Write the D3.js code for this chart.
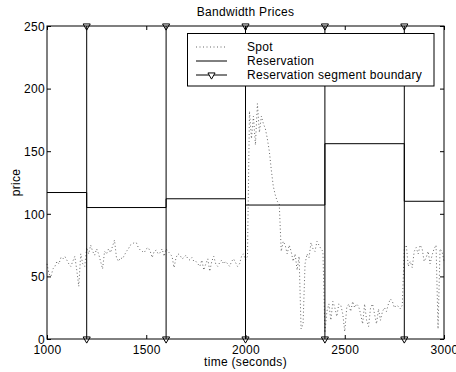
<!DOCTYPE html>
<html>
<head>
<meta charset="utf-8">
<script src="https://cdn.jsdelivr.net/npm/d3@7"></script>
<style>
  html, body { margin: 0; padding: 0; background: #fff; }
  svg { display: block; }
  text { font-family: "Liberation Sans", Arial, Helvetica, sans-serif; letter-spacing: 0.3px; }
</style>
</head>
<body>
<svg id="chart" width="456" height="372"></svg>
<script>
// ---------- data ----------
const title = "Bandwidth Prices";
const xLabel = "time (seconds)";
const yLabel = "price";
const xTicks = [1000, 1500, 2000, 2500, 3000];
const yTicks = [0, 50, 100, 150, 200, 250];

// reservation segments: boundaries and price per segment
const segmentEdges = [1000, 1200, 1600, 2000, 2400, 2800, 3000];
const reservationPrices = [117, 105, 112, 107, 156, 110];
const boundaryTimes = [1200, 1600, 2000, 2400, 2800];

// spot price, sampled every 10 s from t = 1000 s
const spotStart = 1000;
const spotStep = 10;
const spotValues = [
  // 1000-1190
  60, 52, 50, 56, 58, 62, 60, 65, 64, 66, 63, 60, 58, 62, 66, 55, 42, 68, 60, 58,
  // 1200-1590
  73, 68, 75, 70, 67, 72, 68, 62, 56, 70, 68, 72, 69, 74, 79, 65, 62, 65, 64, 67,
  70, 72, 75, 76, 77, 77, 73, 71, 70, 69, 72, 73, 70, 65, 70, 71, 68, 69, 72, 66,
  // 1600-1990
  72, 70, 68, 66, 57, 65, 68, 67, 64, 65, 67, 64, 63, 65, 62, 62, 60, 58, 63, 55,
  60, 64, 54, 62, 66, 60, 58, 61, 63, 60, 62, 60, 58, 62, 64, 61, 58, 60, 66, 68,
  // 2000-2390
  63, 66, 182, 160, 178, 155, 188, 165, 178, 172, 168, 160, 150, 135, 122, 115, 110, 108, 70, 78,
  75, 68, 75, 70, 62, 68, 55, 66, 8, 12, 60, 68, 65, 77, 72, 70, 78, 75, 72, 70,
  // 2400-2790
  5, 22, 28, 15, 30, 25, 18, 28, 27, 20, 6, 25, 28, 22, 30, 25, 28, 26, 20, 12,
  28, 15, 10, 25, 28, 20, 12, 24, 15, 22, 25, 22, 28, 32, 30, 25, 27, 26, 24, 27,
  // 2800-3000
  73, 75, 58, 62, 57, 70, 73, 68, 75, 72, 62, 65, 70, 60, 67, 72, 75, 8, 72, 70, 62
];

const legendLabels = ["Spot", "Reservation", "Reservation segment boundary"];

// ---------- layout ----------
const W = 456, H = 372;
const margin = { left: 47, right: 12, top: 26, bottom: 33 };
const svg = d3.select("#chart");

const x = d3.scaleLinear().domain([1000, 3000]).range([margin.left, W - margin.right]);
const y = d3.scaleLinear().domain([0, 250]).range([H - margin.bottom, margin.top]);

const FS = 12;
const spotColor = "#555";

// spot
const spot = spotValues.map((v, i) => ({ t: spotStart + i * spotStep, v }));
svg.append("path")
  .datum(spot)
  .attr("fill", "none")
  .attr("stroke", spotColor)
  .attr("stroke-width", 0.9)
  .attr("stroke-dasharray", "1,2.5")
  .attr("d", d3.line().x(d => x(d.t)).y(d => y(d.v)));

// reservation step line
const resPts = [];
reservationPrices.forEach((p, i) => {
  resPts.push({ t: segmentEdges[i], v: p });
  resPts.push({ t: segmentEdges[i + 1], v: p });
});
svg.append("path")
  .datum(resPts)
  .attr("fill", "none")
  .attr("stroke", "#000")
  .attr("stroke-width", 1)
  .attr("d", d3.line().x(d => x(d.t)).y(d => y(d.v)));

// boundaries
const tri = d3.symbol().type(d3.symbolTriangle).size(22);
const bnd = svg.append("g");
boundaryTimes.forEach(t => {
  bnd.append("line")
    .attr("x1", x(t)).attr("x2", x(t))
    .attr("y1", y(0)).attr("y2", y(250))
    .attr("stroke", "#000").attr("stroke-width", 1);
  [0, 250].forEach(v => {
    bnd.append("path")
      .attr("d", tri)
      .attr("transform", `translate(${x(t)},${y(v)}) rotate(180)`)
      .attr("fill", "none").attr("stroke", "#000").attr("stroke-width", 1);
  });
});

// axes box
const x0 = x.range()[0], x1 = x.range()[1], y0 = y.range()[0], y1 = y.range()[1];
svg.append("rect")
  .attr("x", x0).attr("y", y1).attr("width", x1 - x0).attr("height", y0 - y1)
  .attr("fill", "none").attr("stroke", "#000").attr("stroke-width", 1);

// ticks (inward) using d3 axes
const tl = 4;
const axB = svg.append("g").attr("transform", `translate(0,${y0})`)
  .call(d3.axisBottom(x).tickValues(xTicks).tickSizeInner(-tl).tickSizeOuter(0).tickPadding(6).tickFormat(d3.format("d")));
const axT = svg.append("g").attr("transform", `translate(0,${y1})`)
  .call(d3.axisTop(x).tickValues(xTicks).tickSizeInner(-tl).tickSizeOuter(0).tickFormat(""));
const axL = svg.append("g").attr("transform", `translate(${x0},0)`)
  .call(d3.axisLeft(y).tickValues(yTicks).tickSizeInner(-tl).tickSizeOuter(0).tickPadding(3).tickFormat(d3.format("d")));
const axR = svg.append("g").attr("transform", `translate(${x1},0)`)
  .call(d3.axisRight(y).tickValues(yTicks).tickSizeInner(-tl).tickSizeOuter(0).tickFormat(""));
[axB, axT, axL, axR].forEach(a => {
  a.select(".domain").remove();
  a.selectAll("line").attr("stroke", "#000");
  a.selectAll("text").attr("fill", "#000").style("font-size", FS + "px")
    .style("font-family", '"Liberation Sans", Arial, sans-serif');
});
axB.selectAll("text").attr("y", 6).attr("dy", "0.71em");
axL.selectAll("text").attr("x", -2).attr("dy", "0.35em");

// title and labels
svg.append("text").attr("x", (x0 + x1) / 2).attr("y", 16)
  .attr("text-anchor", "middle").style("font-size", FS + "px").text(title);
svg.append("text").attr("x", (x0 + x1) / 2).attr("y", 366)
  .attr("text-anchor", "middle").style("font-size", FS + "px").text(xLabel);
svg.append("text").attr("transform", `translate(20,${(y0 + y1) / 2}) rotate(-90)`)
  .attr("text-anchor", "middle").style("font-size", FS + "px").text(yLabel);

// legend
const lg = svg.append("g");
lg.append("rect").attr("x", 187.5).attr("y", 33.5).attr("width", 246.5).attr("height", 52.5)
  .attr("fill", "#fff").attr("stroke", "#000").attr("stroke-width", 1);
const rowY = [47, 61, 75];
const lx0 = 196, lx1 = 227;
lg.append("line").attr("x1", lx0).attr("x2", lx1).attr("y1", rowY[0]).attr("y2", rowY[0])
  .attr("stroke", spotColor).attr("stroke-width", 0.9).attr("stroke-dasharray", "1,2.5");
lg.append("line").attr("x1", lx0).attr("x2", lx1).attr("y1", rowY[1]).attr("y2", rowY[1])
  .attr("stroke", "#000").attr("stroke-width", 1);
lg.append("line").attr("x1", lx0).attr("x2", lx1).attr("y1", rowY[2]).attr("y2", rowY[2])
  .attr("stroke", "#000").attr("stroke-width", 1);
lg.append("path").attr("d", tri)
  .attr("transform", `translate(${(lx0 + lx1) / 2},${rowY[2]}) rotate(180)`)
  .attr("fill", "#fff").attr("stroke", "#000").attr("stroke-width", 1);
legendLabels.forEach((s, i) => {
  lg.append("text").attr("x", 247).attr("y", rowY[i]).attr("dy", "0.35em")
    .style("font-size", FS + "px").text(s);
});
</script>
</body>
</html>
